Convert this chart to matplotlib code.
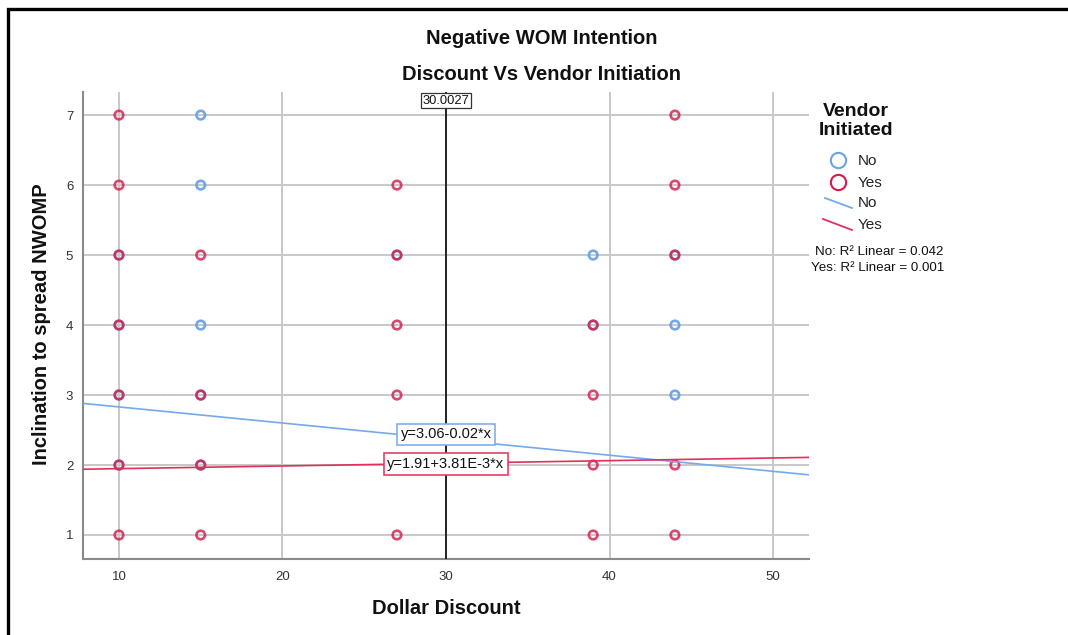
import numpy as np
import matplotlib
matplotlib.use("Agg")
import matplotlib.pyplot as plt
from matplotlib.lines import Line2D
import matplotlib.transforms as mtransforms

plt.rcParams['font.family'] = ['Liberation Sans', 'DejaVu Sans']

# Responses per vendor-initiated group (x = dollar discount, y = inclination score)
no_x = [10, 10, 10, 10, 15, 15, 15, 15, 15, 27, 39, 39, 44, 44, 44]
no_y = [5, 4, 3, 2, 7, 6, 4, 3, 2, 5, 5, 4, 5, 4, 3]
yes_x = [10, 10, 10, 10, 10, 10, 10, 15, 15, 15, 15, 27, 27, 27, 27, 27,
         39, 39, 39, 39, 44, 44, 44, 44, 44]
yes_y = [7, 6, 5, 4, 3, 2, 1, 5, 3, 2, 1, 6, 5, 4, 3, 1,
         4, 3, 2, 1, 7, 6, 5, 2, 1]

# Linear fits (intercept, slope) and R^2
no_fit = (3.06, -0.023)
yes_fit = (1.91, 3.81e-3)
no_r2 = 0.042
yes_r2 = 0.001
mean_discount = 30.0027

x_ticks = [10, 20, 30, 40, 50]
y_ticks = [1, 2, 3, 4, 5, 6, 7]

BLUE = '#6aa3e6'
RED = '#d41a48'
BLUE_LINE = '#74aaea'
RED_LINE = '#e0305a'

W, H = 1068, 635
fig = plt.figure(figsize=(W / 100, H / 100), dpi=100)


def fx(px):
    return px / W


def fy(py):
    return 1 - py / H


ax = fig.add_axes([fx(83), fy(559), fx(809) - fx(83), fy(92) - fy(559)])
ax.set_xlim(7.8, 52.2)
ax.set_ylim(0.657, 7.33)
ax.set_xticks(x_ticks)
ax.set_yticks(y_ticks)
ax.grid(True, color='#c8c8c8', linewidth=1.4, zorder=0)
ax.set_axisbelow(True)
for side in ('top', 'right'):
    ax.spines[side].set_visible(False)
for side in ('left', 'bottom'):
    ax.spines[side].set_color('#8a8a8a')
    ax.spines[side].set_linewidth(1.5)
ax.tick_params(length=0, labelsize=9.5, labelcolor='#333333')
ax.tick_params(axis='x', pad=9)
ax.tick_params(axis='y', pad=7)

# scatter points
ax.scatter(no_x, no_y, s=38, facecolors='none', edgecolors=BLUE,
           linewidths=1.9, alpha=0.95, zorder=3)
ax.scatter(yes_x, yes_y, s=38, facecolors='none', edgecolors=RED,
           linewidths=1.9, alpha=0.8, zorder=4)

# fit lines
xs = np.array(ax.get_xlim())
ax.plot(xs, no_fit[0] + no_fit[1] * xs, color=BLUE_LINE, lw=1.2, zorder=5)
ax.plot(xs, yes_fit[0] + yes_fit[1] * xs, color=RED_LINE, lw=1.2, zorder=5)

# mean reference line
ax.axvline(mean_discount, color='#222222', lw=1.4, zorder=6)
trans = mtransforms.blended_transform_factory(ax.transData, ax.transAxes)
ax.text(mean_discount, 0.981, f'{mean_discount:.4f}', transform=trans,
        ha='center', va='center', fontsize=9.3, color='#111111', zorder=8,
        bbox=dict(boxstyle='square,pad=0.12', fc='white', ec='#333333', lw=0.9),
        clip_on=False)

# equation labels
xl = 30.0
ax.text(xl, no_fit[0] + no_fit[1] * xl + 0.07,
        f'y={no_fit[0]:.2f}-{abs(no_fit[1]):.2f}*x', ha='center', va='center',
        fontsize=10.5, color='#111111', zorder=9,
        bbox=dict(boxstyle='square,pad=0.25', fc='white', ec=BLUE_LINE, lw=1.1))
ax.text(xl, yes_fit[0] + yes_fit[1] * xl - 0.01,
        f'y={yes_fit[0]:.2f}+{yes_fit[1] * 1e3:.2f}E-3*x', ha='center', va='center',
        fontsize=10.5, color='#111111', zorder=9,
        bbox=dict(boxstyle='square,pad=0.25', fc='white', ec=RED_LINE, lw=1.1))

# titles and axis labels
fig.text(fx(542), fy(38), 'Negative WOM Intention', ha='center', va='center',
         fontsize=14.5, fontweight='bold', color='#111111')
fig.text(fx(542), fy(75), 'Discount Vs Vendor Initiation', ha='center', va='center',
         fontsize=14.5, fontweight='bold', color='#111111')
fig.text(fx(446), fy(609), 'Dollar Discount', ha='center', va='center',
         fontsize=14.5, fontweight='bold', color='#111111')
fig.text(fx(42), fy(324), 'Inclination to spread NWOMP', ha='center', va='center',
         rotation=90, fontsize=14.5, fontweight='bold', color='#111111')

# legend
fig.text(fx(856), fy(121), 'Vendor\nInitiated', ha='center', va='center',
         fontsize=14, fontweight='bold', color='#111111', linespacing=1.15)
fig.add_artist(Line2D([fx(838)], [fy(160)], marker='o', ms=11, mfc='none',
                      mec=BLUE, mew=1.5, transform=fig.transFigure))
fig.add_artist(Line2D([fx(838)], [fy(182)], marker='o', ms=11, mfc='none',
                      mec=RED, mew=1.5, transform=fig.transFigure))
fig.add_artist(Line2D([fx(825), fx(852)], [fy(198), fy(208)], color=BLUE_LINE,
                      lw=1.3, transform=fig.transFigure))
fig.add_artist(Line2D([fx(823), fx(852)], [fy(219), fy(230)], color=RED_LINE,
                      lw=1.3, transform=fig.transFigure))
for py, lab in [(161, 'No'), (183, 'Yes'), (203, 'No'), (225, 'Yes')]:
    fig.text(fx(858), fy(py), lab, ha='left', va='center', fontsize=11,
             color='#222222')
fig.text(fx(879), fy(252), f'No: R² Linear = {no_r2:.3f}', ha='center',
         va='center', fontsize=9.6, color='#111111')
fig.text(fx(878), fy(268), f'Yes: R² Linear = {yes_r2:.3f}', ha='center',
         va='center', fontsize=9.6, color='#111111')

# outer frame
fig.add_artist(Line2D([fx(8), fx(8), fx(W + 5)], [fy(H + 5), fy(9), fy(9)],
                      color='black', lw=2.4, transform=fig.transFigure,
                      solid_joinstyle='miter'))

fig.savefig('out.png', dpi=100)
